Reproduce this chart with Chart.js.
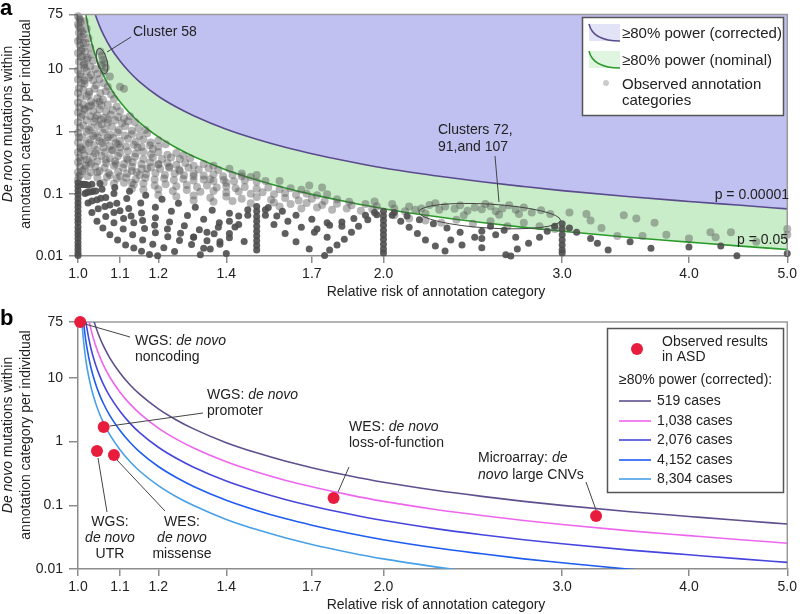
<!DOCTYPE html>
<html lang="en">
<head>
<meta charset="UTF-8">
<title>Power to detect de novo burden by annotation category</title>
<script src="https://cdn.jsdelivr.net/npm/chart.js"></script>
<style>
  html, body { margin: 0; padding: 0; background: #fff; }
  #wrap { width: 800px; height: 614px; }
  canvas { display: block; }
</style>
</head>
<body>
<div id="wrap">
  <canvas id="panelA" width="800" height="300"></canvas>
  <canvas id="panelB" width="800" height="314"></canvas>
</div>
<script>
// ---- axis ticks ----
const xTicks = [1.0, 1.1, 1.2, 1.4, 1.7, 2.0, 3.0, 4.0, 5.0];
const yTicks = [0.01, 0.1, 1, 10, 75];

// ---- power curves (rate per individual at each relative risk) ----
const curveRR = [1.005, 1.01, 1.015, 1.02, 1.03, 1.04, 1.05, 1.06, 1.075, 1.1, 1.125, 1.15, 1.2, 1.25, 1.3,
                 1.4, 1.5, 1.6, 1.7, 1.85, 2.0, 2.25, 2.5, 2.75, 3.0, 3.5, 4.0, 4.5, 5.0];
const nominalRate = [965, 242, 108.3, 61.7, 28.6, 16.6, 10.92, 7.75, 5.09, 2.97, 1.946, 1.382, 0.812, 0.544, 0.395,
                     0.240, 0.166, 0.1236, 0.0973, 0.0727, 0.0574, 0.0430, 0.0345, 0.0288, 0.0249, 0.0198, 0.0167, 0.0144, 0.0127];
const correctedRate = [4343, 1089, 487, 278, 129, 74.7, 49.1, 34.9, 22.9, 13.4, 8.76, 6.22, 3.65, 2.45, 1.78,
                       1.08, 0.747, 0.556, 0.438, 0.327, 0.258, 0.194, 0.155, 0.130, 0.112, 0.089, 0.075, 0.065, 0.057];
const cases519 = [3860, 968, 433, 247, 114, 66.4, 43.7, 31.0, 20.4, 11.9, 7.78, 5.53, 3.25, 2.18, 1.58,
                  0.96, 0.664, 0.494, 0.389, 0.291, 0.230, 0.172, 0.138, 0.115, 0.0996, 0.0792, 0.0668, 0.0576, 0.0508];
const cases1038 = [1930, 484, 216.5, 123.5, 57, 33.2, 21.85, 15.5, 10.2, 5.95, 3.89, 2.765, 1.625, 1.09, 0.79,
                   0.48, 0.332, 0.247, 0.1945, 0.1455, 0.115, 0.086, 0.069, 0.0575, 0.0498, 0.0396, 0.0334, 0.0288, 0.0254];
const cases2076 = [965, 242, 108, 61.8, 28.5, 16.6, 10.9, 7.75, 5.1, 2.98, 1.945, 1.38, 0.8125, 0.545, 0.395,
                   0.24, 0.166, 0.1235, 0.0973, 0.0728, 0.0575, 0.043, 0.0345, 0.0288, 0.0249, 0.0198, 0.0167, 0.0144, 0.0127];
const cases4152 = [482, 121, 54, 30.9, 14.25, 8.3, 5.45, 3.88, 2.55, 1.49, 0.973, 0.69, 0.406, 0.2725, 0.1975,
                   0.12, 0.083, 0.0618, 0.0487, 0.0364, 0.0288, 0.0215, 0.0173, 0.0144, 0.0125, 0.0099, 0.0084, 0.0072, 0.0064];
const cases8304 = [241, 60.5, 27, 15.4, 7.1, 4.15, 2.73, 1.94, 1.275, 0.745, 0.486, 0.345, 0.203, 0.136, 0.099,
                   0.06, 0.0415, 0.0309, 0.0243, 0.0182, 0.0144, 0.0108, 0.0086, 0.0072, 0.0062, 0.005, 0.0042, 0.0036, 0.0032];
const caseLabels = ['519 cases', '1,038 cases', '2,076 cases', '4,152 cases', '8,304 cases'];
const caseColors = ['#5f4f8e', '#ee66ee', '#4646de', '#1f5cf0', '#48a0e6'];

// ---- observed results in ASD (panel b) ----
const observedRR   = [1.005, 1.06, 1.044, 1.085, 1.786, 3.24];
const observedRate = [75, 1.69, 0.71, 0.614, 0.13, 0.0678];

// ---- observed annotation categories (panel a), [relative risk, rate] ----
const cloudColumn = [[1.0,70],[1.004,62],[1.0,52],[1.006,45],[1.002,38],[1.008,33],[1.0,28],[1.004,24],[1.01,21],[1.0,18],
  [1.006,15.5],[1.002,13],[1.012,11.5],[1.0,9.5],[1.005,8.2],[1.0,6.8],[1.009,5.9],[1.002,4.9],[1.0,4.1],[1.006,3.5],
  [1.0,2.9],[1.003,2.4],[1.0,2.0],[1.007,1.7],[1.0,1.4],[1.004,1.15],[1.0,0.95],[1.002,0.8],[1.0,0.66],[1.005,0.55],
  [1.0,0.46],[1.003,0.38],[1.0,0.32],[1.004,0.27],[1.0,0.22],[1.002,0.19],[1.0,0.165],
  [1.003,66],[1.006,56],[1.002,48],[1.009,40],[1.004,30],[1.012,26],[1.007,20]];
const cloudUpper = [[1.015,58],[1.02,44],[1.013,36],[1.024,31],[1.018,26],[1.028,22],[1.016,19],[1.03,17],
  [1.022,15],[1.035,13.5],[1.014,12],[1.028,11],[1.04,10],[1.02,9.2],[1.045,8.4],
  [1.008,7.5],[1.025,7.2],[1.035,6.5],[1.05,6.9],[1.015,5.8],[1.042,5.5],[1.06,5.9],[1.07,5.2],
  [1.012,4.6],[1.026,4.3],[1.038,4.8],[1.052,4.1],[1.065,4.4],[1.078,3.9],[1.02,3.6],[1.045,3.4],[1.058,3.2],[1.085,3.3],[1.03,3.0],
  [1.012,2.7],[1.024,2.5],[1.04,2.8],[1.055,2.6],[1.07,2.7],[1.092,2.5],[1.016,2.2],[1.035,2.1],[1.05,2.25],[1.066,2.05],[1.082,2.2],[1.1,2.1],
  [1.01,1.85],[1.028,1.75],[1.044,1.8],[1.06,1.65],[1.077,1.85],[1.095,1.7],[1.11,1.6],[1.125,1.75],[1.02,1.5],[1.037,1.42],
  [1.053,1.55],[1.07,1.38],[1.088,1.5],[1.105,1.35],[1.12,1.45],[1.138,1.4],
  [1.012,1.25],[1.03,1.15],[1.047,1.22],[1.063,1.08],[1.08,1.18],[1.097,1.05],[1.113,1.2],[1.13,1.02],[1.147,1.12],[1.165,1.05],
  [1.075,7.6],[1.1,5.2],[1.11,4.8]];
const cloudDense = [[1.005,0.2],[1.015,0.25],[1.03,0.3],[1.02,0.35],[1.04,0.45],[1.01,0.5],[1.06,0.55],[1.025,0.65],[1.05,0.7],
  [1.07,0.8],[1.035,0.85],[1.09,0.65],[1.08,0.5],[1.1,0.55],[1.12,0.35],[1.065,0.35],[1.09,0.3],[1.045,0.22],[1.075,0.2],
  [1.1,0.19],[1.13,0.23],[1.15,0.2],[1.17,0.25],[1.2,0.3],[1.23,0.27],[1.185,0.52],[1.145,0.55],[1.025,1.05],[1.055,1.3],
  [1.04,1.6],[1.07,1.55],[1.015,2.3],[1.03,2.6],[1.05,3.0],[1.025,3.9],[1.015,6.5],[1.03,8],[1.02,14],[1.01,16],[1.015,10.5],
  [1.13,0.15],[1.26,0.23],[1.3,0.19],[1.35,0.17],[1.4,0.15]];
const cluster58 = [[1.052,19],[1.056,16.5],[1.058,14],[1.062,12.5],[1.055,11.5],[1.065,10.5],[1.06,9]];
const cloudLower = [[1.02,0.98],[1.04,0.92],[1.058,0.95],[1.076,0.88],[1.094,0.96],[1.112,0.86],[1.13,0.9],[1.15,0.85],[1.17,0.93],
  [1.01,0.8],[1.028,0.74],[1.046,0.8],[1.065,0.72],[1.083,0.78],[1.1,0.7],[1.12,0.76],[1.14,0.68],[1.16,0.74],[1.18,0.66],[1.2,0.72],
  [1.018,0.62],[1.037,0.6],[1.056,0.65],[1.075,0.58],[1.095,0.62],[1.115,0.57],[1.135,0.61],[1.155,0.56],[1.177,0.6],[1.2,0.57],[1.22,0.62],
  [1.008,0.52],[1.026,0.48],[1.044,0.5],[1.063,0.46],[1.082,0.49],[1.1,0.45],[1.12,0.48],[1.14,0.44],[1.16,0.47],[1.18,0.43],[1.2,0.46],
  [1.225,0.42],[1.25,0.45],[1.27,0.41],[1.015,0.41],[1.035,0.39],[1.055,0.4],[1.075,0.37],[1.095,0.4],[1.117,0.37],[1.138,0.39],
  [1.16,0.36],[1.185,0.38],[1.21,0.36],[1.235,0.38],[1.26,0.36],[1.29,0.37],
  [1.006,0.34],[1.025,0.32],[1.045,0.33],[1.066,0.31],[1.088,0.33],[1.11,0.3],[1.132,0.32],[1.155,0.3],[1.178,0.32],[1.2,0.29],
  [1.225,0.31],[1.25,0.29],[1.276,0.31],[1.3,0.28],[1.33,0.3],[1.36,0.28],[1.018,0.28],[1.04,0.27],[1.062,0.26],[1.085,0.28],
  [1.108,0.26],[1.13,0.27],[1.155,0.25],[1.18,0.265],[1.205,0.25],[1.23,0.26],[1.258,0.245],[1.285,0.26],[1.315,0.245],[1.345,0.255],
  [1.375,0.24],[1.41,0.25],
  [1.01,0.23],[1.03,0.22],[1.05,0.23],[1.072,0.215],[1.095,0.225],[1.118,0.21],[1.142,0.22],[1.167,0.205],[1.192,0.215],[1.218,0.2],
  [1.245,0.21],[1.272,0.198],[1.3,0.208],[1.33,0.195],[1.36,0.205],[1.39,0.19],[1.42,0.2],[1.45,0.19],[1.48,0.185],[1.022,0.19],
  [1.045,0.18],[1.068,0.185],[1.092,0.175],[1.116,0.18],[1.14,0.17],[1.165,0.178],[1.19,0.168],[1.216,0.175],[1.243,0.165],[1.27,0.172],
  [1.3,0.162],[1.33,0.168],[1.36,0.16],[1.392,0.165],[1.425,0.158],[1.46,0.162],[1.5,0.155],[1.53,0.16],
  [1.06,0.15],[1.085,0.145],[1.11,0.15],[1.135,0.14],[1.16,0.145],[1.19,0.135],[1.22,0.142],[1.25,0.132],[1.28,0.138],[1.31,0.128],
  [1.34,0.135],[1.37,0.125],[1.4,0.13],[1.43,0.122],[1.46,0.128],[1.5,0.12],[1.54,0.125],[1.58,0.118],[1.62,0.122],[1.66,0.115],
  [1.13,0.12],[1.16,0.115],[1.2,0.118],[1.24,0.11],[1.28,0.114],[1.32,0.107],[1.36,0.11],[1.4,0.104],[1.44,0.108],[1.48,0.1],
  [1.52,0.105],[1.56,0.098],[1.6,0.102],[1.64,0.096],[1.68,0.1],[1.72,0.094],[1.76,0.098],
  [1.2,0.095],[1.25,0.09],[1.3,0.093],[1.35,0.086],[1.4,0.09],[1.45,0.083],[1.5,0.088],[1.55,0.08],[1.6,0.085],[1.65,0.078],
  [1.7,0.083],[1.75,0.076],[1.8,0.081],[1.85,0.074],[1.3,0.078],[1.36,0.074],[1.42,0.076],[1.48,0.07],[1.56,0.072],[1.62,0.068],
  [1.68,0.071],[1.74,0.066],[1.8,0.069],[1.86,0.065],[1.92,0.068],[1.97,0.063],
  [1.58,0.062],[1.66,0.058],[1.72,0.06],[1.78,0.055],[1.84,0.058],[1.9,0.053],[2.05,0.058],[2.1,0.052],[2.15,0.055],[1.95,0.056],
  [1.45,0.21],[1.5,0.2],[1.58,0.16],[1.69,0.135],[1.74,0.125],[1.96,0.075],[2.04,0.068]];
const cluster72 = [[2.12,0.062],[2.18,0.058],[2.22,0.066],[2.27,0.055],[2.3,0.062],[2.35,0.057],[2.38,0.065],[2.42,0.053],
  [2.46,0.06],[2.5,0.056],[2.55,0.063],[2.58,0.052],[2.62,0.058],[2.66,0.065],[2.7,0.055],[2.75,0.06],[2.8,0.05],[2.86,0.054],
  [2.92,0.047],[2.2,0.048],[2.4,0.045],[2.6,0.046],[2.25,0.07],[2.52,0.068],[2.72,0.047],
  [2.05,0.045],[2.12,0.04],[2.2,0.037],[2.28,0.034],[2.36,0.038],[2.45,0.033],[2.55,0.036],[2.65,0.03],[2.75,0.034],[2.85,0.03],[2.95,0.027]];
const tailLight = [[3.05,0.05],[3.17,0.047],[3.2,0.037],[3.28,0.028],[3.4,0.021],[3.6,0.021],[3.8,0.022],[4.0,0.019],[4.2,0.024],
  [4.25,0.02],[4.4,0.024],[4.66,0.017],[5.0,0.027],[5.0,0.022],[3.45,0.045],[3.55,0.04],[3.7,0.034]];

const arcsLeft = [[1.0,0.15],[1.0,0.13],[1.0,0.112],[1.0,0.097],[1.0,0.083],[1.0,0.071],[1.0,0.061],[1.0,0.052],[1.0,0.045],[1.0,0.039],
  [1.0,0.034],[1.0,0.029],[1.0,0.025],[1.0,0.022],[1.0,0.019],[1.0,0.0165],[1.0,0.0145],[1.0,0.0127],[1.0,0.0112],[1.0,0.0102],
  [1.009,0.141],[1.016,0.101],[1.023,0.071],[1.032,0.05],[1.044,0.036],[1.058,0.028],[1.075,0.022],[1.094,0.018],[1.114,0.015],
  [1.135,0.0134],[1.155,0.0119],[1.176,0.0106],[1.198,0.0101],
  [1.011,0.14],[1.02,0.104],[1.032,0.076],[1.047,0.057],[1.065,0.043],[1.085,0.034],[1.108,0.027],[1.132,0.022],[1.158,0.018],
  [1.185,0.0155],[1.215,0.0135],[1.245,0.0118],
  [1.014,0.141],[1.027,0.106],[1.044,0.08],[1.063,0.062],[1.085,0.05],[1.109,0.04],[1.135,0.034],[1.163,0.0275],[1.192,0.0237],
  [1.226,0.0204],[1.259,0.0177],[1.294,0.0153],[1.33,0.0133],
  [1.018,0.14],[1.034,0.108],[1.053,0.084],[1.075,0.066],[1.1,0.053],[1.128,0.044],[1.158,0.037],[1.19,0.031],[1.225,0.027],
  [1.262,0.0232],[1.3,0.0202],[1.34,0.0176],[1.38,0.0154],[1.4,0.011],
  [1.023,0.137],[1.041,0.11],[1.065,0.087],[1.092,0.07],[1.122,0.058],[1.155,0.049],[1.192,0.041],[1.231,0.035],[1.273,0.0305],
  [1.317,0.0264],[1.362,0.0228],[1.41,0.0197],[1.458,0.0171],
  [1.032,0.141],[1.056,0.118],[1.085,0.101],[1.117,0.0835],[1.153,0.071],[1.192,0.0605],[1.236,0.052],[1.282,0.0448],[1.33,0.039],
  [1.378,0.034],[1.428,0.0293],
  [1.051,0.146],[1.087,0.126],[1.124,0.109],[1.166,0.0944],[1.21,0.0813],[1.256,0.07],[1.305,0.0606],[1.356,0.054],[1.41,0.0483]];
const fan15 = [[1.5,0.062],[1.5,0.052],[1.5,0.043],[1.5,0.036],[1.5,0.03],[1.5,0.025],[1.5,0.021],[1.5,0.0175],[1.5,0.0148],[1.5,0.0125],
  [1.47,0.045],[1.44,0.032],[1.41,0.023],[1.38,0.017],[1.35,0.013],[1.32,0.0105],
  [1.47,0.055],[1.44,0.044],[1.41,0.036],[1.375,0.029],[1.34,0.024],[1.3,0.02],
  [1.53,0.045],[1.56,0.032],[1.6,0.023],[1.64,0.017],[1.69,0.013],[1.75,0.0102],
  [1.53,0.055],[1.57,0.044],[1.61,0.036],[1.66,0.029],[1.71,0.024],[1.76,0.02],
  [1.54,0.06],[1.59,0.052],[1.64,0.045],[1.7,0.039],[1.76,0.034],[1.82,0.03]];
const fan20 = [[2.0,0.052],[2.0,0.044],[2.0,0.037],[2.0,0.031],[2.0,0.026],[2.0,0.022],[2.0,0.0185],[2.0,0.0155],[2.0,0.013],[2.0,0.0112],
  [1.97,0.046],[1.93,0.038],[1.89,0.03],[1.86,0.024],[1.83,0.0185],[1.8,0.015],[1.77,0.0125],
  [1.96,0.05],[1.92,0.045],[1.87,0.04],[1.82,0.035],[1.77,0.031],[1.72,0.027],
  [2.04,0.045],[2.08,0.036],[2.12,0.029],[2.16,0.023],[2.2,0.018],[2.25,0.0145],[2.3,0.012],
  [2.05,0.05],[2.11,0.044],[2.17,0.038],[2.24,0.033],[2.31,0.028],[2.38,0.024],[2.46,0.02]];
const fan30 = [[3.0,0.033],[3.0,0.027],[3.0,0.022],[3.0,0.018],[3.0,0.015],[3.0,0.0125],[3.0,0.0112],
  [2.95,0.03],[2.9,0.025],[2.85,0.02],[2.78,0.016],[2.71,0.013],[2.64,0.0105],
  [2.5,0.025],[2.5,0.019],[2.5,0.0135],[2.39,0.015],[2.33,0.018],[2.58,0.022],[2.63,0.026],[2.67,0.01],[2.55,0.03],[2.7,0.02],
  [3.05,0.028],[3.1,0.024],[3.2,0.019],[3.25,0.016],[3.33,0.0125],[3.5,0.017],[3.67,0.0133],[4.0,0.014],[4.3,0.0145],[4.46,0.0101],[5.0,0.011]];

// ---- helpers ----
const FONT = '"Liberation Sans", Arial, Helvetica, sans-serif';
const INK = '#222';
const AXIS = '#8c8c8c';
Chart.defaults.font.family = FONT;
Chart.defaults.font.size = 14;
Chart.defaults.color = INK;

const pairs = list => list.map(p => ({ x: p[0], y: p[1] }));
const series = ys => curveRR.map((x, i) => ({ x: x, y: ys[i] }));

function richText(ctx, parts, x, y, size, align) {
  const fontOf = it => (it ? 'italic ' : '') + size + 'px ' + FONT;
  let w = 0;
  parts.forEach(p => { ctx.font = fontOf(p[1]); w += ctx.measureText(p[0]).width; });
  let cx = align === 'center' ? x - w / 2 : (align === 'right' ? x - w : x);
  ctx.textAlign = 'left';
  ctx.textBaseline = 'middle';
  ctx.fillStyle = INK;
  parts.forEach(p => { ctx.font = fontOf(p[1]); ctx.fillText(p[0], cx, y); cx += ctx.measureText(p[0]).width; });
}

function line(ctx, x1, y1, x2, y2) {
  ctx.beginPath(); ctx.moveTo(x1, y1); ctx.lineTo(x2, y2); ctx.stroke();
}

function axes(xHeight) {
  const grid = { drawOnChartArea: false, drawTicks: true, color: AXIS, lineWidth: 1.5 };
  return {
    x: {
      type: 'logarithmic', min: 1, max: 5,
      afterBuildTicks: s => { s.ticks = xTicks.map(v => ({ value: v })); },
      afterFit: s => { s.height = xHeight; },
      ticks: { callback: v => Number(v).toFixed(1), autoSkip: false, maxRotation: 0, padding: 3 },
      grid: Object.assign({ tickLength: 7 }, grid),
      border: { color: AXIS, width: 1.5 }
    },
    y: {
      type: 'logarithmic', min: 0.01, max: 75,
      afterBuildTicks: s => { s.ticks = yTicks.map(v => ({ value: v })); },
      afterFit: s => { s.width = 78; },
      ticks: { callback: v => String(v), autoSkip: false, padding: 6 },
      grid: Object.assign({ tickLength: 9 }, grid),
      border: { color: AXIS, width: 1.5 }
    }
  };
}

function drawFrame(chart) {
  const { ctx, chartArea: a } = chart;
  ctx.save();
  ctx.strokeStyle = '#9a9a9a';
  ctx.lineWidth = 1.5;
  ctx.beginPath();
  ctx.moveTo(a.left, a.top); ctx.lineTo(a.right, a.top); ctx.lineTo(a.right, a.bottom);
  ctx.stroke();
  ctx.restore();
}

function drawAxisTitles(ctx, yCenter, xTitleY) {
  richText(ctx, [['Relative risk of annotation category', false]], 436, xTitleY, 14, 'center');
  ctx.save();
  ctx.translate(0, yCenter);
  ctx.rotate(-Math.PI / 2);
  richText(ctx, [['De novo', true], [' mutations within', false]], 0, 8, 14, 'center');
  richText(ctx, [['annotation category per individual', false]], 0, 26, 14, 'center');
  ctx.restore();
}

// ---- panel a ----
const annotateA = {
  id: 'annotateA',
  afterDatasetsDraw(chart) {
    drawFrame(chart);
    const ctx = chart.ctx, xs = chart.scales.x, ys = chart.scales.y;
    ctx.save();
    ctx.strokeStyle = '#444';
    ctx.lineWidth = 1;
    // cluster 58
    ctx.beginPath();
    ctx.ellipse(xs.getPixelForValue(1.056), ys.getPixelForValue(13.4), 5, 13, -0.25, 0, Math.PI * 2);
    ctx.stroke();
    line(ctx, 107, 52, 131, 37);
    richText(ctx, [['Cluster 58', false]], 133, 32, 14, 'left');
    // clusters 72, 91, 107
    ctx.beginPath();
    ctx.ellipse(xs.getPixelForValue(2.545), ys.getPixelForValue(0.0436), 71, 12, 0.06, 0, Math.PI * 2);
    ctx.stroke();
    line(ctx, 495, 156, 499, 202);
    richText(ctx, [['Clusters 72,', false]], 438, 130, 14, 'left');
    richText(ctx, [['91,and 107', false]], 438, 147, 14, 'left');
    richText(ctx, [['p = 0.00001', false]], 789, 195, 14, 'right');
    richText(ctx, [['p = 0.05', false]], 788, 240, 14, 'right');

    // legend
    ctx.fillStyle = '#fff';
    ctx.fillRect(582, 17, 201, 98);
    ctx.strokeStyle = '#555';
    ctx.lineWidth = 1.5;
    ctx.strokeRect(582.5, 17.5, 201, 98);
    [[24, 'rgba(192,192,240,0.45)', '#5a4b8c', '≥80% power (corrected)', 34],
     [51, 'rgba(196,236,196,0.55)', '#2b9a2b', '≥80% power (nominal)', 61]].forEach(it => {
      const top = it[0];
      ctx.fillStyle = it[1];
      ctx.fillRect(589, top, 31, 17);
      ctx.strokeStyle = it[2];
      ctx.lineWidth = 1.5;
      ctx.beginPath();
      ctx.moveTo(589, top);
      ctx.quadraticCurveTo(593, top + 17, 620, top + 17);
      ctx.stroke();
      richText(ctx, [[it[3], false]], 622, it[4], 15, 'left');
    });
    ctx.fillStyle = 'rgba(85,85,85,0.3)';
    ctx.beginPath(); ctx.arc(606, 83, 3, 0, Math.PI * 2); ctx.fill();
    richText(ctx, [['Observed annotation', false]], 622, 85, 15, 'left');
    richText(ctx, [['categories', false]], 622, 101, 15, 'left');
    ctx.restore();
  },
  afterDraw(chart) {
    const ctx = chart.ctx;
    ctx.save();
    drawAxisTitles(ctx, 124, 292);
    ctx.font = 'bold 22px ' + FONT;
    ctx.fillStyle = '#000';
    ctx.textAlign = 'left';
    ctx.textBaseline = 'alphabetic';
    ctx.fillText('a', 0, 15);
    ctx.restore();
  }
};

const lightPoints = [].concat(cloudColumn, cloudUpper, cloudDense, cluster58, cloudLower, cluster72, tailLight);
const darkPoints = [].concat(arcsLeft, fan15, fan20, fan30);

new Chart(document.getElementById('panelA'), {
  type: 'scatter',
  data: {
    datasets: [
      { label: 'corrected', data: series(correctedRate), showLine: true, pointRadius: 0,
        borderColor: '#5a4b8c', borderWidth: 1.6, fill: 'end', backgroundColor: '#c0c0f1',
        cubicInterpolationMode: 'monotone', order: 4 },
      { label: 'nominal', data: series(nominalRate), showLine: true, pointRadius: 0,
        borderColor: '#2b9a2b', borderWidth: 1.6, fill: '-1', backgroundColor: '#c8edc8',
        cubicInterpolationMode: 'monotone', order: 3 },
      { label: 'observed', data: pairs(lightPoints), pointRadius: 4, borderWidth: 0,
        backgroundColor: 'rgba(80,80,80,0.42)', clip: false, order: 2 },
      { label: 'observed discrete', data: pairs(darkPoints), pointRadius: 3.5, borderWidth: 0,
        backgroundColor: 'rgba(78,78,78,0.9)', clip: false, order: 1 }
    ]
  },
  options: {
    responsive: false,
    animation: false,
    events: [],
    layout: { padding: { left: 0, top: 7, right: 9, bottom: 0 } },
    scales: axes(44),
    plugins: { legend: { display: false }, tooltip: { enabled: false }, filler: { drawTime: 'beforeDatasetsDraw' } }
  },
  plugins: [annotateA]
});

// ---- panel b ----
const annotateB = {
  id: 'annotateB',
  beforeDatasetsDraw(chart) { drawFrame(chart); },
  afterDraw(chart) {
    const ctx = chart.ctx;
    ctx.save();
    ctx.strokeStyle = '#444';
    ctx.lineWidth = 1;
    line(ctx, 85, 24, 130, 37);
    richText(ctx, [['WGS: ', false], ['de novo', true]], 135, 41, 14, 'left');
    richText(ctx, [['noncoding', false]], 135, 57, 14, 'left');
    line(ctx, 110, 126, 203, 113);
    richText(ctx, [['WGS: ', false], ['de novo', true]], 207, 95, 14, 'left');
    richText(ctx, [['promoter', false]], 207, 111, 14, 'left');
    line(ctx, 98, 158, 107, 212);
    richText(ctx, [['WGS:', false]], 110, 222, 14, 'center');
    richText(ctx, [['de novo', true]], 110, 238, 14, 'center');
    richText(ctx, [['UTR', false]], 110, 254, 14, 'center');
    line(ctx, 117, 160, 165, 211);
    richText(ctx, [['WES:', false]], 182, 222, 14, 'center');
    richText(ctx, [['de novo', true]], 182, 238, 14, 'center');
    richText(ctx, [['missense', false]], 182, 254, 14, 'center');
    line(ctx, 338, 192, 349, 167);
    richText(ctx, [['WES: ', false], ['de novo', true]], 349, 127, 14, 'left');
    richText(ctx, [['loss-of-function', false]], 349, 143, 14, 'left');
    line(ctx, 586, 182, 596, 210);
    richText(ctx, [['Microarray: ', false], ['de', true]], 478, 158, 14, 'left');
    richText(ctx, [['novo', true], [' large CNVs', false]], 478, 175, 14, 'left');

    // legend
    ctx.fillStyle = '#fff';
    ctx.fillRect(607, 28, 176, 164);
    ctx.strokeStyle = '#555';
    ctx.lineWidth = 1.5;
    ctx.strokeRect(607.5, 28.5, 176, 164);
    ctx.fillStyle = '#e81c3c';
    ctx.beginPath(); ctx.arc(637, 49, 6, 0, Math.PI * 2); ctx.fill();
    richText(ctx, [['Observed results', false]], 662, 42, 14, 'left');
    richText(ctx, [['in ASD', false]], 662, 57, 14, 'left');
    richText(ctx, [['≥80% power (corrected):', false]], 619, 80, 14, 'left');
    const rows = [101, 121, 140, 160, 179];
    caseLabels.forEach((lab, i) => {
      ctx.strokeStyle = caseColors[i];
      ctx.lineWidth = 1.6;
      line(ctx, 619, rows[i], 651, rows[i]);
      richText(ctx, [[lab, false]], 657, rows[i], 14, 'left');
    });

    drawAxisTitles(ctx, 135, 305);
    ctx.font = 'bold 22px ' + FONT;
    ctx.fillStyle = '#000';
    ctx.textAlign = 'left';
    ctx.textBaseline = 'alphabetic';
    ctx.fillText('b', 0, 25);
    ctx.restore();
  }
};

const caseSeries = [cases519, cases1038, cases2076, cases4152, cases8304];
new Chart(document.getElementById('panelB'), {
  type: 'scatter',
  data: {
    datasets: [
      { label: 'Observed results in ASD', data: observedRR.map((x, i) => ({ x: x, y: observedRate[i] })),
        pointRadius: 6, borderWidth: 0, backgroundColor: '#e81c3c', clip: false, order: 0 }
    ].concat(caseSeries.map((ys, i) => ({
      label: caseLabels[i], data: series(ys), showLine: true, pointRadius: 0,
      borderColor: caseColors[i], borderWidth: 1.6, fill: false,
      cubicInterpolationMode: 'monotone', order: i + 1
    })))
  },
  options: {
    responsive: false,
    animation: false,
    events: [],
    layout: { padding: { left: 0, top: 22, right: 9, bottom: 0 } },
    scales: axes(45),
    plugins: { legend: { display: false }, tooltip: { enabled: false } }
  },
  plugins: [annotateB]
});
</script>
</body>
</html>
